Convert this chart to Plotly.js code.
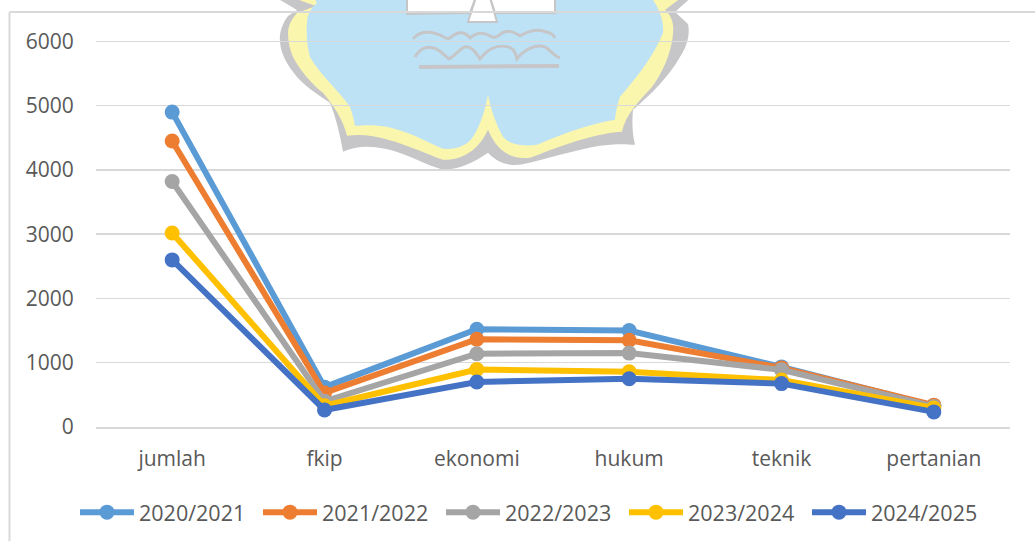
<!DOCTYPE html>
<html>
<head>
<meta charset="utf-8">
<script src="https://cdn.plot.ly/plotly-3.0.1.min.js"></script>
<style>html,body{margin:0;padding:0;background:#fff;}#chart{width:1035px;height:542px;}</style>
</head>
<body>
<div id="chart"></div>
<script>
const categories = ["jumlah","fkip","ekonomi","hukum","teknik","pertanian"];
const seriesNames = ["2020/2021","2021/2022","2022/2023","2023/2024","2024/2025"];
const s2020 = [4900,620,1520,1500,935,330];
const s2021 = [4450,530,1365,1350,920,340];
const s2022 = [3820,400,1140,1150,890,320];
const s2023 = [3020,330,895,860,730,295];
const s2024 = [2600,265,700,750,675,235];
const colors = ["#5B9BD5","#ED7D31","#A5A5A5","#FFC000","#4472C4"];
const yTicks = [0,1000,2000,3000,4000,5000,6000];

const wm = `<svg xmlns="http://www.w3.org/2000/svg" width="440" height="180" viewBox="265 0 440 180">
<defs><filter id="b" x="-5%" y="-5%" width="110%" height="110%"><feGaussianBlur stdDeviation="0.7"/></filter></defs>
<g filter="url(#b)">
<path d="M270 -6 L297 10 L288 16 C282 24 279 33 280 42 C281 55 288 66 297 77 C307 88 320 96 330 103 C336 118 340 135 343 152 C356 146 370 146 385 149 C405 153 425 165 443 170 C460 170 475 162 488 153 C497 162 505 166 520 165 C545 160 575 150 600 146 C612 144 625 144 635 145 C632 133 632 120 633 110 C650 95 668 78 680 57 C688 45 690 33 688 24 L675 12 L695 -6 Z" fill="#c6c6c8"/>
<path d="M282 -6 L316 6 L297 13 C291 20 288 26 288 33 C288 42 290 50 293 57 C301 72 312 84 323 93 C334 106 343 120 347 136 C360 134 375 136 388 140 C410 146 428 155 443 160 C460 161 478 152 488 130 C497 152 512 160 530 158 C552 150 590 134 622 132 C625 115 640 100 652 87 C662 74 672 52 673 33 C674 24 672 16 665 10 L686 -6 Z" fill="#fbf6ae"/>
<path d="M312 -6 L317 3 C311 8 307 15 307 23 C306 34 307 46 310 57 C320 75 340 92 350 107 C352 113 354 120 355 126 C365 125 378 125 387 127 C410 132 428 143 443 149 C458 150 468 145 473 137 C481 125 485 110 488 95 C491 110 496 125 503 137 C510 145 522 147 537 145 C560 135 590 124 615 120 C616 110 618 103 620 97 C634 80 652 60 663 33 C664 22 660 10 653 0 L650 -6 Z" fill="#bde2f6"/>
<path d="M407 14 L407 -6 L555 -6 L555 13 L495 13 L489 -6 L477 -6 L470 13 Z" fill="#ffffff" stroke="#c6c6c8" stroke-width="2"/>
<path d="M477 -6 L489 -6 L497 22 L468 22 Z" fill="#ffffff" stroke="#c6c6c8" stroke-width="2"/>
<path d="M413 39 C420 30 432 31 442 36 C447 40 450 39 454 35 C460 31 466 33 470 38 C476 33 482 31 490 36 C495 39 497 37 502 33 C510 29 515 33 520 36 C527 32 535 29 543 31 C551 33 553 34 555 38" fill="none" stroke="#c6c6c8" stroke-width="3"/>
<path d="M415 57 C420 48 428 45 436 49 C442 52 446 57 449 59 C453 58 458 50 465 47 C472 46 476 53 480 59 C487 50 497 44 508 47 C515 49 516 55 517 59 C524 50 535 44 545 47 C552 51 553 56 560 58" fill="none" stroke="#c6c6c8" stroke-width="3"/>
<line x1="419" y1="67" x2="559" y2="66" stroke="#c6c6c8" stroke-width="4"/>
</g>
</svg>`;

const traces = [s2020,s2021,s2022,s2023,s2024].map((vals,i)=>({
  type:"scatter", mode:"lines+markers", name:seriesNames[i],
  x:categories, y:vals,
  line:{color:colors[i],width:6,shape:"linear"},
  marker:{color:colors[i],size:15}
}));

const W=1035,H=542,L=96,R=1010,B=427.5;
const pxPer = (427.5-41.5)/6000;
const yMax = 6100;
const T = B - yMax*pxPer;
const FONT = "'Open Sans', sans-serif";
const layout = {
  width:W,height:H,
  paper_bgcolor:"#ffffff",plot_bgcolor:"rgba(0,0,0,0)",
  margin:{l:L,r:W-R,t:T,b:H-B,pad:0},
  font:{family:FONT,size:21,color:"#595959"},
  showlegend:true,
  hovermode:false,
  xaxis:{type:"category",categoryorder:"array",categoryarray:categories,
    range:[-0.5,5.5],showgrid:false,showline:true,linecolor:"#D9D9D9",linewidth:1.5,
    ticks:"outside",tickcolor:"rgba(0,0,0,0)",ticklen:12,
    tickfont:{family:FONT,size:21,color:"#595959"},automargin:false},
  yaxis:{range:[0,yMax],tickvals:yTicks,ticktext:yTicks.map(String),showgrid:true,gridcolor:"#D9D9D9",gridwidth:1.5,
    zeroline:false,showline:false,ticks:"outside",tickcolor:"rgba(0,0,0,0)",ticklen:17,
    tickfont:{family:FONT,size:21,color:"#595959"},automargin:false},
  legend:{orientation:"h",x:75/W,xanchor:"left",xref:"container",y:0.055,yanchor:"middle",yref:"container",
    itemwidth:54,entrywidth:114,entrywidthmode:"pixels",font:{family:FONT,size:21.5,color:"#595959"},
    bgcolor:"rgba(0,0,0,0)",traceorder:"normal",itemclick:false,itemdoubleclick:false},
  images:[{source:"data:image/svg+xml;charset=utf-8,"+encodeURIComponent(wm),
    xref:"paper",yref:"paper",x:(265-L)/(R-L),y:B/(B-T),sizex:440/(R-L),sizey:180/(B-T),
    xanchor:"left",yanchor:"top",sizing:"stretch",layer:"below"}],
  shapes:[
    {type:"line",xref:"paper",yref:"paper",x0:(9.5-L)/(R-L),x1:(9.5-L)/(R-L),y0:(B-542)/(B-T),y1:(B-12)/(B-T),line:{color:"#D9D9D9",width:2}},
    {type:"line",xref:"paper",yref:"paper",x0:(9.5-L)/(R-L),x1:(1035-L)/(R-L),y0:(B-12)/(B-T),y1:(B-12)/(B-T),line:{color:"#D9D9D9",width:2}}
  ]
};
Plotly.newPlot("chart",traces,layout,{displayModeBar:false,staticPlot:true});
</script>
</body>
</html>
